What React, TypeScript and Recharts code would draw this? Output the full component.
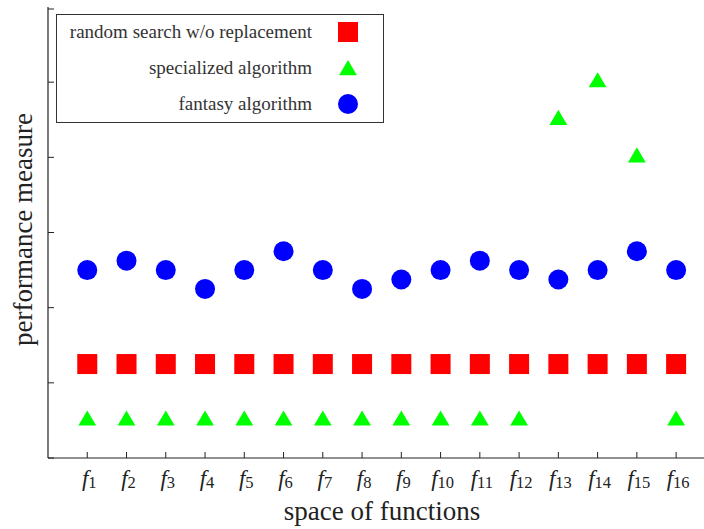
import React from 'react';
import { ScatterChart, Scatter, XAxis, YAxis, Legend } from 'recharts';

const categories = [1, 2, 3, 4, 5, 6, 7, 8, 9, 10, 11, 12, 13, 14, 15, 16];
const tickLabels = ['1', '2', '3', '4', '5', '6', '7', '8', '9', '10', '11', '12', '13', '14', '15', '16'];
const randomSearchValues = [1.25, 1.25, 1.25, 1.25, 1.25, 1.25, 1.25, 1.25, 1.25, 1.25, 1.25, 1.25, 1.25, 1.25, 1.25, 1.25];
const specializedValues = [0.5, 0.5, 0.5, 0.5, 0.5, 0.5, 0.5, 0.5, 0.5, 0.5, 0.5, 0.5, 4.5, 5.0, 4.0, 0.5];
const fantasyValues = [2.5, 2.625, 2.5, 2.25, 2.5, 2.75, 2.5, 2.25, 2.375, 2.5, 2.625, 2.5, 2.375, 2.5, 2.75, 2.5];
const yTicks = [0, 1, 2, 3, 4, 5, 6];
const seriesNames = ['random search w/o replacement', 'specialized algorithm', 'fantasy algorithm'];

const FONT = '"Liberation Serif", "Times New Roman", serif';
const AXIS = '#222';

const randomData = categories.map((x, i) => ({ x, y: randomSearchValues[i] }));
const specializedData = categories.map((x, i) => ({ x, y: specializedValues[i] }));
const fantasyData = categories.map((x, i) => ({ x, y: fantasyValues[i] }));

const Square = (p: any) => <rect x={p.cx - 10} y={p.cy - 10} width={20} height={20} fill="#ff0000" />;
const Triangle = (p: any) => (
  <polygon
    points={`${p.cx},${p.cy - 10} ${p.cx - 8.9},${p.cy + 5.2} ${p.cx + 8.9},${p.cy + 5.2}`}
    fill="#00ff00"
  />
);
const Dot = (p: any) => <circle cx={p.cx} cy={p.cy} r={10} fill="#0000ff" />;

const BottomTick = (p: any) => {
  const idx = categories.indexOf(p.payload.value);
  return (
    <g>
      <line x1={p.x} x2={p.x} y1={p.y} y2={p.y - 6} stroke={AXIS} strokeWidth={1} />
      <text x={p.x + 2} y={p.y + 28} textAnchor="middle" fontFamily={FONT} fill="#222" fontSize={23}>
        <tspan fontStyle="italic">f</tspan>
        <tspan fontSize={16.5} dy={2}>{tickLabels[idx]}</tspan>
      </text>
    </g>
  );
};

const TopTick = (p: any) => (
  <line x1={p.x} x2={p.x} y1={p.y} y2={p.y + 6} stroke={AXIS} strokeWidth={1} />
);

const LeftTick = (p: any) => (
  <line x1={p.x} x2={p.x + 6} y1={p.y} y2={p.y} stroke={AXIS} strokeWidth={1} />
);

const LegendBox = () => {
  const rows = [0, 1, 2];
  return (
    <svg width={328} height={109} style={{ display: 'block' }}>
      <rect x={0.5} y={0.5} width={327} height={108} fill="#fff" stroke="#333" strokeWidth={1} />
      {rows.map((r) => {
        const cy = 18 + r * 36;
        return (
          <g key={r}>
            <text x={256} y={cy + 6} textAnchor="end" fontFamily={FONT} fontSize={19} fill="#333">
              {seriesNames[r]}
            </text>
            {r === 0 && <Square cx={292} cy={cy} />}
            {r === 1 && <Triangle cx={292} cy={cy + 2} />}
            {r === 2 && <Dot cx={292} cy={cy} />}
          </g>
        );
      })}
    </svg>
  );
};

export default function App() {
  return (
    <div style={{ position: 'absolute', left: 0, top: 0 }}>
      <ScatterChart width={704} height={529} margin={{ top: 7, right: 0, bottom: 0, left: 0 }}>
        <XAxis
          xAxisId="top"
          orientation="top"
          type="number"
          dataKey="x"
          domain={[0, 16.71]}
          ticks={categories}
          height={0}
          tickSize={0}
          tickMargin={0}
          tick={<TopTick />}
          axisLine={{ stroke: AXIS, strokeWidth: 1 }}
          tickLine={false}
          allowDataOverflow
        />
        <XAxis
          type="number"
          dataKey="x"
          domain={[0, 16.71]}
          ticks={categories}
          height={71}
          tickSize={0}
          tickMargin={0}
          tick={<BottomTick />}
          tickLine={false}
          axisLine={{ stroke: AXIS, strokeWidth: 1.2 }}
          allowDataOverflow
          label={{
            content: (lp: any) => {
              const vb = lp.viewBox;
              return (
                <text x={vb.x + vb.width / 2 + 6} y={vb.y + 62} textAnchor="middle" fontFamily={FONT} fontSize={27} fill="#222">
                  space of functions
                </text>
              );
            },
          }}
        />
        <YAxis
          type="number"
          dataKey="y"
          domain={[0, 6]}
          ticks={yTicks}
          width={48}
          tickSize={0}
          tickMargin={0}
          tick={<LeftTick />}
          tickLine={false}
          axisLine={{ stroke: AXIS, strokeWidth: 1.2 }}
          allowDataOverflow
          label={{
            content: (lp: any) => {
              const vb = lp.viewBox;
              const cy = vb.y + vb.height / 2 - 3;
              return (
                <text x={32} y={cy} transform={`rotate(-90, 32, ${cy})`} textAnchor="middle" fontFamily={FONT} fontSize={27} fill="#222">
                  performance measure
                </text>
              );
            },
          }}
        />
        <Legend
          layout="vertical"
          align="center"
          verticalAlign="middle"
          width={328}
          height={109}
          wrapperStyle={{ left: 56, top: 14, width: 328, height: 109 }}
          content={() => <LegendBox />}
        />
        <Scatter name={seriesNames[0]} data={randomData} shape={Square} isAnimationActive={false} />
        <Scatter name={seriesNames[1]} data={specializedData} shape={Triangle} isAnimationActive={false} />
        <Scatter name={seriesNames[2]} data={fantasyData} shape={Dot} isAnimationActive={false} />
      </ScatterChart>
    </div>
  );
}
